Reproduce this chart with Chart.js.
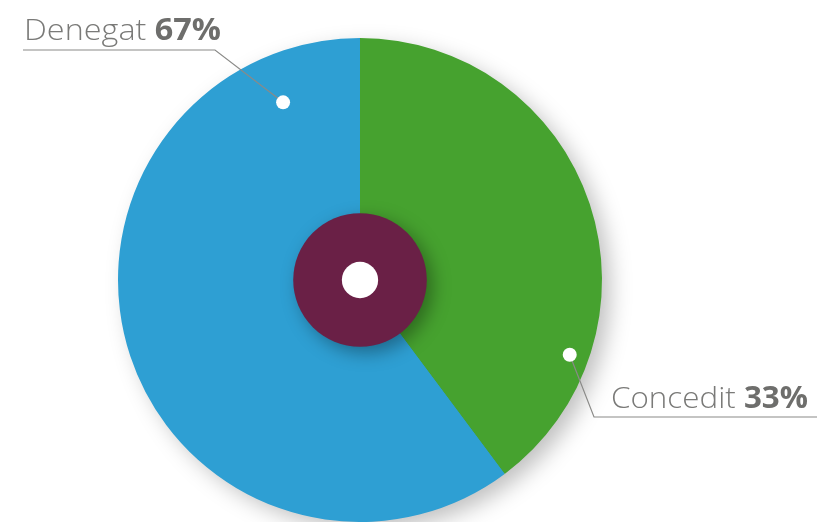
<!DOCTYPE html>
<html><head><meta charset="utf-8">
<script src="https://cdn.jsdelivr.net/npm/chart.js@4"></script>
<style>html,body{margin:0;padding:0;background:#fff;overflow:hidden}#c{display:block}</style>
</head><body>
<canvas id="c" width="817" height="522"></canvas>
<script>
// Data
const categories = ['Concedit', 'Denegat'];
const sliceShares = [39.8, 60.2];      // share of the circle as drawn
const labelPercents = ['33%', '67%'];  // printed labels
const sliceColors = ['#46a22f', '#2e9fd3'];

const labelPlugin = {
  id: 'decor',
  beforeDatasetsDraw(chart) {
    const ctx = chart.ctx;
    ctx.save();
    ctx.shadowColor = 'rgba(0,0,0,0.25)';
    ctx.shadowBlur = 22;
    ctx.shadowOffsetX = 9;
    ctx.shadowOffsetY = 8;
    const a = chart.getDatasetMeta(0).data[0];
    ctx.beginPath();
    ctx.arc(a.x, a.y, a.outerRadius - 1, 0, Math.PI * 2);
    ctx.fillStyle = '#2e9fd3';
    ctx.fill();
    ctx.restore();
  },
  afterDatasetsDraw(chart) {
    const ctx = chart.ctx;
    const meta = chart.getDatasetMeta(0);
    const cx = meta.data[0].x, cy = meta.data[0].y, R = meta.data[0].outerRadius;
    // centre disc
    ctx.save();
    ctx.shadowColor = 'rgba(0,0,0,0.35)';
    ctx.shadowBlur = 18;
    ctx.shadowOffsetX = 6;
    ctx.shadowOffsetY = 6;
    ctx.beginPath();
    ctx.arc(cx, cy, R * 0.276, 0, Math.PI * 2);
    ctx.fillStyle = '#6a2046';
    ctx.fill();
    ctx.restore();
    ctx.beginPath();
    ctx.arc(cx, cy, R * 0.075, 0, Math.PI * 2);
    ctx.fillStyle = '#ffffff';
    ctx.fill();

    const specs = [
      {t: 0.765, rf: 0.92, elbow: [594, 417], lineEnd: 817, textX: 611, textY: 408, width: 197},
      {t: 0.892, rf: 0.80, elbow: [215, 50], lineEnd: 23, textX: 24, textY: 40, width: 197}
    ];
    specs.forEach((s, i) => {
      const arc = meta.data[i];
      const ang = arc.startAngle + s.t * (arc.endAngle - arc.startAngle);
      const px = cx + Math.cos(ang) * R * s.rf, py = cy + Math.sin(ang) * R * s.rf;
      ctx.save();
      ctx.strokeStyle = '#8a8a88';
      ctx.lineWidth = 1.2;
      ctx.beginPath();
      ctx.moveTo(px, py);
      ctx.lineTo(s.elbow[0], s.elbow[1]);
      ctx.lineTo(s.lineEnd, s.elbow[1]);
      ctx.stroke();
      ctx.beginPath();
      ctx.arc(px, py, 7, 0, Math.PI * 2);
      ctx.fillStyle = '#ffffff';
      ctx.fill();
      ctx.restore();

      ctx.save();
      ctx.textBaseline = 'alphabetic';
      ctx.textAlign = 'left';
      const fLight = '300 30px "Open Sans", "DejaVu Sans", sans-serif';
      const fBold = 'bold 30px "Open Sans", "DejaVu Sans", sans-serif';
      const name = categories[i] + ' ';
      ctx.font = fLight;
      const w1 = ctx.measureText(name).width;
      ctx.font = fBold;
      const w2 = ctx.measureText(labelPercents[i]).width;
      const sx = s.width / (w1 + w2);
      ctx.translate(s.textX, s.textY);
      ctx.scale(sx, 1);
      ctx.font = fLight;
      ctx.fillStyle = '#7a7a78';
      ctx.fillText(name, 0, 0);
      ctx.font = fBold;
      ctx.fillStyle = '#6e6e6c';
      ctx.fillText(labelPercents[i], w1, 0);
      ctx.restore();
    });
  }
};

new Chart(document.getElementById('c'), {
  type: 'pie',
  data: {
    labels: categories,
    datasets: [{ data: sliceShares, backgroundColor: sliceColors, borderWidth: 0 }]
  },
  options: {
    responsive: false,
    animation: false,
    layout: { padding: { top: 38, bottom: 0, left: 118, right: 215 } },
    plugins: { legend: { display: false }, tooltip: { enabled: false } }
  },
  plugins: [labelPlugin]
});
</script>
</body></html>
